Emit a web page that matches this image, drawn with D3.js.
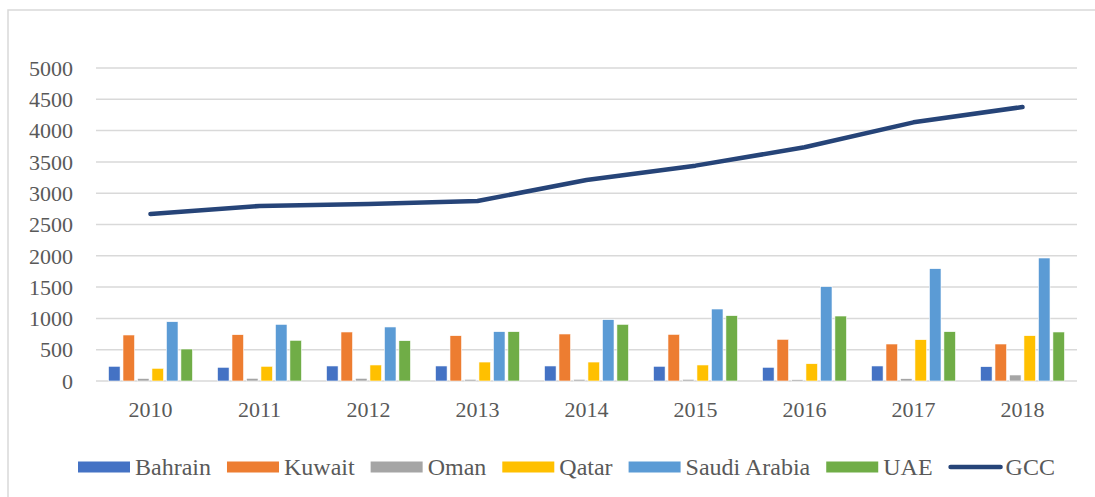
<!DOCTYPE html>
<html>
<head>
<meta charset="utf-8">
<script src="https://cdn.jsdelivr.net/npm/d3@7"></script>
<style>
  body { margin: 0; background: #fff; }
  text { font-family: "Liberation Serif", "Times New Roman", serif; fill: #595959; }
</style>
</head>
<body>
<svg id="chart"></svg>
<script>
// data
const years = ["2010", "2011", "2012", "2013", "2014", "2015", "2016", "2017", "2018"];
const countries = ["Bahrain", "Kuwait", "Oman", "Qatar", "Saudi Arabia", "UAE"];
const bahrain = [235, 219, 240, 240, 240, 235, 219, 240, 229];
const kuwait = [735, 740, 783, 724, 751, 745, 666, 591, 591];
const oman = [40, 43, 43, 27, 27, 27, 21, 37, 96];
const qatar = [203, 235, 256, 303, 303, 256, 276, 660, 724];
const saudi = [947, 905, 863, 788, 980, 1150, 1507, 1794, 1965];
const uae = [511, 650, 644, 788, 905, 1044, 1038, 788, 783];
const gcc = [2668, 2796, 2827, 2875, 3211, 3440, 3733, 4132, 4377];
const yTicks = [0, 500, 1000, 1500, 2000, 2500, 3000, 3500, 4000, 4500, 5000];

const colors = ["#4472C4", "#ED7D31", "#A5A5A5", "#FFC000", "#5B9BD5", "#70AD47"];
const lineColor = "#264478";
const series = [bahrain, kuwait, oman, qatar, saudi, uae];

const W = 1095, H = 497;
const plot = { left: 96, right: 1077, top: 68, bottom: 381 };

const svg = d3.select("#chart").attr("width", W).attr("height", H);

// chart frame
svg.append("rect")
  .attr("x", 8).attr("y", 10)
  .attr("width", 1100).attr("height", 500)
  .attr("fill", "none")
  .attr("stroke", "#d9d9d9")
  .attr("stroke-width", 1.5);

const x = d3.scaleBand().domain(years).range([plot.left, plot.right]).padding(0);
const xIn = d3.scaleBand().domain(countries).range([12.5, x.bandwidth() - 12.5]).paddingInner(0.2);
const y = d3.scaleLinear().domain([0, 5000]).range([plot.bottom, plot.top]);

// gridlines
svg.append("g")
  .selectAll("line")
  .data(yTicks)
  .join("line")
    .attr("x1", plot.left).attr("x2", plot.right)
    .attr("y1", d => y(d)).attr("y2", d => y(d))
    .attr("stroke", "#d9d9d9")
    .attr("stroke-width", 1.5);

// y tick labels
svg.append("g")
  .selectAll("text")
  .data(yTicks)
  .join("text")
    .attr("x", 73)
    .attr("y", d => y(d))
    .attr("dy", "0.35em")
    .attr("text-anchor", "end")
    .attr("font-size", 22)
    .text(d => d);

// x tick labels
svg.append("g")
  .selectAll("text")
  .data(years)
  .join("text")
    .attr("x", d => x(d) + x.bandwidth() / 2)
    .attr("y", 417)
    .attr("text-anchor", "middle")
    .attr("font-size", 22)
    .text(d => d);

// bars
countries.forEach((c, i) => {
  svg.append("g")
    .selectAll("rect")
    .data(years)
    .join("rect")
      .attr("x", d => x(d) + xIn(c))
      .attr("width", xIn.bandwidth())
      .attr("y", (d, j) => y(series[i][j]))
      .attr("height", (d, j) => y(0) - y(series[i][j]))
      .attr("fill", colors[i])
      .attr("stroke", "#fff")
      .attr("stroke-width", 0.6);
});

// GCC line
const line = d3.line()
  .x((d, j) => x(years[j]) + x.bandwidth() / 2)
  .y(d => y(d));

svg.append("path")
  .datum(gcc)
  .attr("d", line)
  .attr("fill", "none")
  .attr("stroke", lineColor)
  .attr("stroke-width", 4.5)
  .attr("stroke-linecap", "round")
  .attr("stroke-linejoin", "round");

// legend
const legend = svg.append("g");
let lx = 78;
const ly = 467;
const items = countries.map((c, i) => ({ name: c, color: colors[i], type: "bar" }))
  .concat([{ name: "GCC", color: lineColor, type: "line" }]);

items.forEach(it => {
  if (it.type === "bar") {
    legend.append("rect")
      .attr("x", lx).attr("y", ly - 5.5)
      .attr("width", 52).attr("height", 11)
      .attr("fill", it.color);
  } else {
    legend.append("line")
      .attr("x1", lx + 2).attr("x2", lx + 52)
      .attr("y1", ly).attr("y2", ly)
      .attr("stroke", it.color)
      .attr("stroke-width", 4.5)
      .attr("stroke-linecap", "round");
  }
  const t = legend.append("text")
    .attr("x", lx + 57)
    .attr("y", ly + 8)
    .attr("font-size", 24)
    .text(it.name);
  lx += 57 + t.node().getComputedTextLength() + 16;
});
</script>
</body>
</html>
